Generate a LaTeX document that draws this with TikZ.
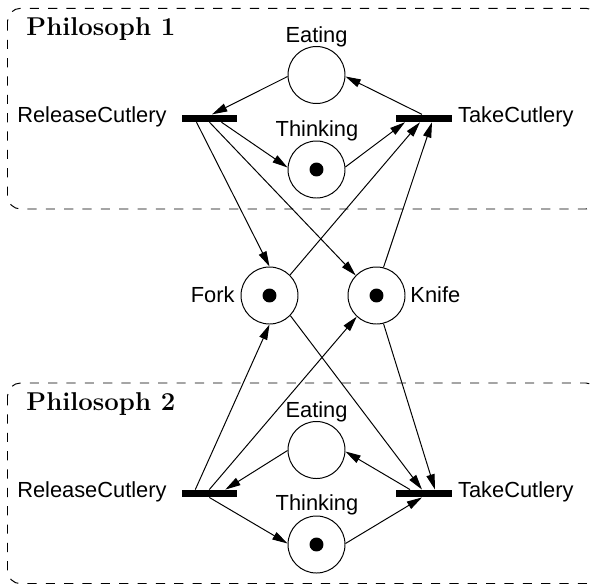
\documentclass[tikz,border=0pt]{standalone}
\usepackage{fontspec}
\newfontfamily\labfont{Liberation Sans}
\usetikzlibrary{arrows.meta,calc}
\tikzset{
  place/.style={circle,draw,line width=0.45pt,minimum size=26.1pt,inner sep=0pt},
  token/.style={circle,fill=black,minimum size=6.4pt,inner sep=0pt},
  trans/.style={rectangle,fill=black,minimum width=25.2pt,minimum height=3.2pt,inner sep=0pt},
  lab/.style={inner sep=0pt,anchor=base,font=\labfont\fontsize{10}{12}\selectfont},
  phil/.style={inner sep=0pt,anchor=base west,font=\fontsize{11.8}{13}\selectfont\bfseries},
  philbox/.style={draw,line width=0.45pt,dash pattern=on 4.2pt off 4.2pt,rounded corners=6pt},
  arc/.style={line width=0.45pt,-{Triangle[length=7pt,width=3.8pt]}},
}
\begin{document}
\begin{tikzpicture}[x=0.4579pt,y=-0.4579pt]
\clip (0,0) rectangle (593,583);
\useasboundingbox (0,0) rectangle (593,583);
% boxes
\draw[philbox] (7.5,8.3) rectangle (599,209);
\draw[philbox] (7.5,383) rectangle (599,583.7);
\node[phil] (ph1) at (26,35.7) {Philosoph 1};
\node[phil] (ph2) at (26,410.2) {Philosoph 2};
% places and transitions
\node[place] (eat1) at (316.5,75) {};
\node[place] (think1) at (316.5,169.5) {};
\node[trans] (rel1) at (209.5,118.3) {};
\node[trans] (take1) at (424,118.3) {};
\node[place] (fork) at (269.5,295.5) {};
\node[place] (knife) at (376.5,295.5) {};
\node[place] (eat2) at (316.5,450) {};
\node[place] (think2) at (316.5,544.5) {};
\node[trans] (rel2) at (209.3,493.5) {};
\node[trans] (take2) at (424,493.5) {};
% tokens
\node[token] (tk1) at (think1) {};
\node[token] (tk2) at (think2) {};
\node[token] (tk3) at (fork) {};
\node[token] (tk4) at (knife) {};
% labels
\node[lab] (leat1) at (316.5,42.7) {Eating};
\node[lab] (lthink1) at (317,136) {Thinking};
\node[lab,anchor=base east] (lrel1) at (167,122.4) {ReleaseCutlery};
\node[lab,anchor=base west] (ltake1) at (457.7,122) {TakeCutlery};
\node[lab,anchor=base east] (lfork) at (235,302.3) {Fork};
\node[lab,anchor=base west] (lknife) at (410,302.3) {Knife};
\node[lab] (leat2) at (316.5,417.7) {Eating};
\node[lab] (lthink2) at (317,510.5) {Thinking};
\node[lab,anchor=base east] (lrel2) at (167,497.6) {ReleaseCutlery};
\node[lab,anchor=base west] (ltake2) at (457.7,497.2) {TakeCutlery};
% arcs philosopher 1
\draw[arc] (eat1.183) -- ($(rel1.north)+(2.5,0)$);
\draw[arc] ($(rel1.south)+(12,0)$) -- (think1.176);
\draw[arc] ($(rel1.south)+(-13,0)$) -- (fork.north);
\draw[arc] (rel1.south) -- (knife.136);
\draw[arc] ($(take1.north)+(-2,0)$) -- (eat1.-3);
\draw[arc] (think1.5) -- ($(take1.south)+(-19,0)$);
\draw[arc] (fork.45) -- ($(take1.south)+(-4,0)$);
\draw[arc] (knife.76) -- ($(take1.south)+(8,0)$);
% arcs philosopher 2
\draw[arc] (eat2.181) -- ($(rel2.north)+(16,0)$);
\draw[arc] (rel2.south) -- (think2.178);
\draw[arc] ($(rel2.north)+(-14,0)$) -- (fork.south);
\draw[arc] (rel2.north) -- (knife.227);
\draw[arc] ($(take2.north)+(-14,0)$) -- (eat2.-3);
\draw[arc] (fork.-44) -- ($(take2.north)+(-2,0)$);
\draw[arc] (knife.-76) -- ($(take2.north)+(11,0)$);
\draw[arc] (think2.2) -- ($(take2.south)+(-2,0)$);
\end{tikzpicture}
\end{document}
